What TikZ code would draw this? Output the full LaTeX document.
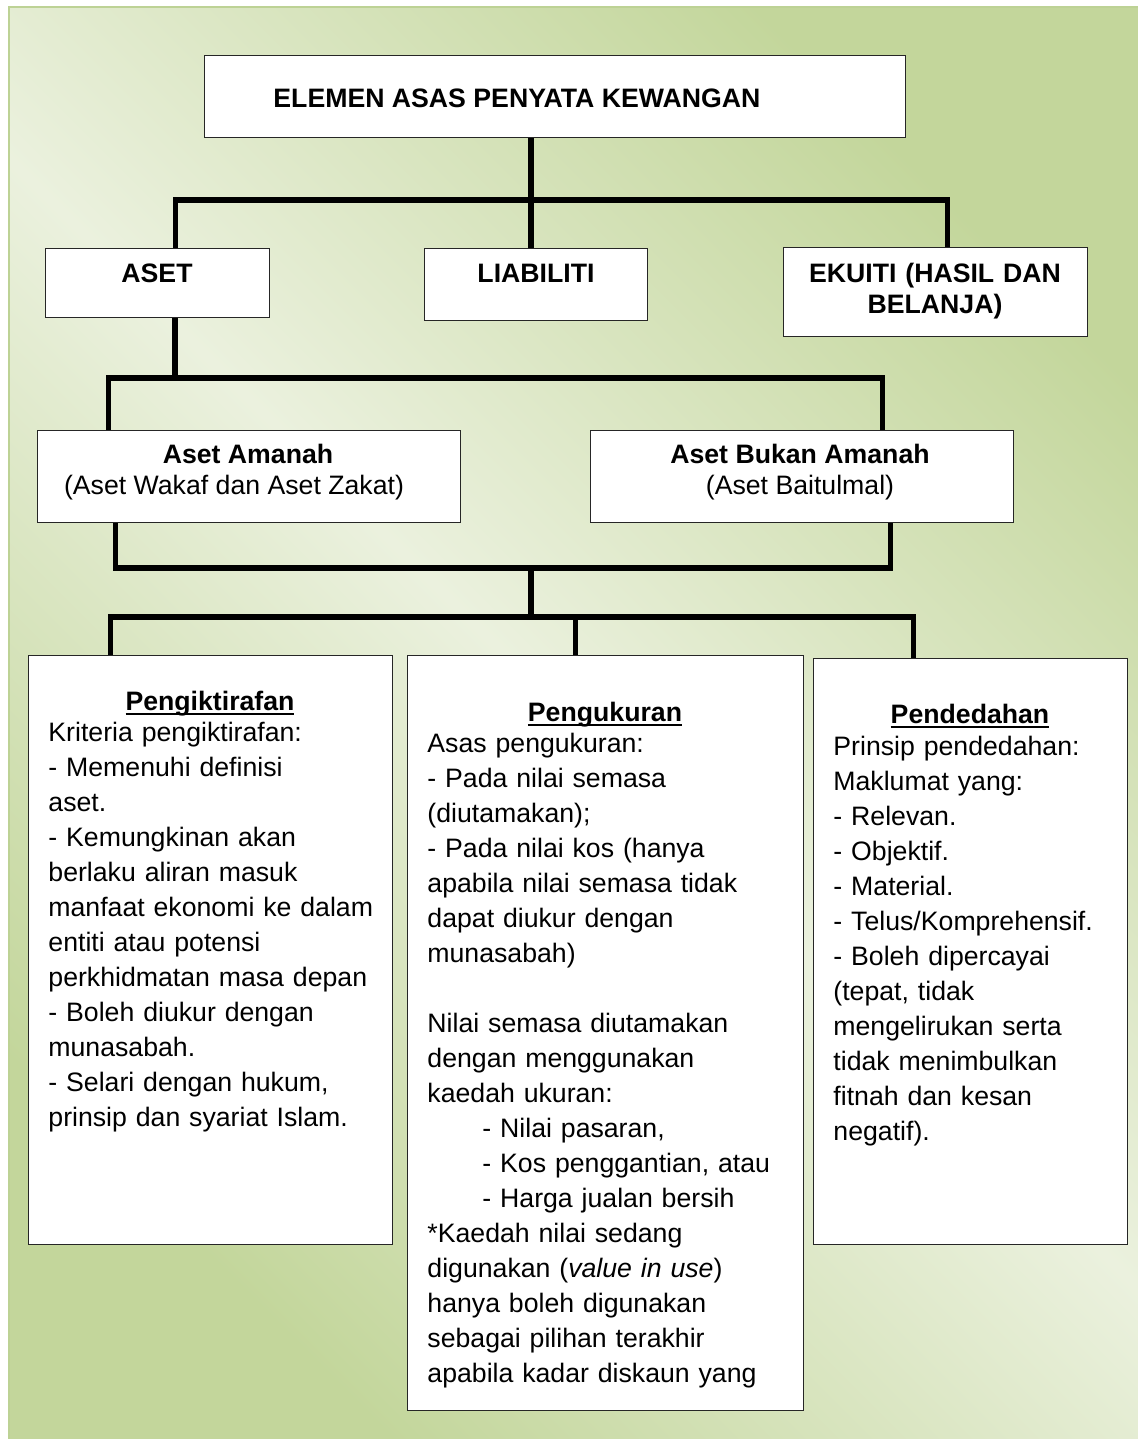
\documentclass[tikz,border=0pt]{standalone}
\usepackage{fontspec}
\setmainfont{Liberation Sans}
\usetikzlibrary{calc}
\definecolor{olivedark}{HTML}{C3D69B}
\definecolor{olivelight}{HTML}{EBF1DE}
\definecolor{oliveline}{HTML}{BDD295}
\newcommand{\isiteks}{\fontsize{12}{15.75}\selectfont}
\newsavebox{\headbox}
\newcommand{\headline}[1]{\sbox{\headbox}{\textbf{#1}}\usebox{\headbox}\llap{\rule[-2.4pt]{\wd\headbox}{0.9pt}}}

\begin{document}
\begin{tikzpicture}[x=0.45pt,y=-0.45pt,
    box/.style={draw=black!85,line width=0.6pt,fill=white,inner sep=0pt,anchor=north west},
    boxsize/.style 2 args={minimum width=#1*0.45pt,minimum height=#2*0.45pt},
    teks/.style={inner sep=0pt,font=\isiteks},
    senarai/.style={teks,anchor=base west,align=left},
    link/.style={line width=2.3pt,line join=miter}]
\useasboundingbox (0,0) rectangle (1138,1439);
% latar
\shade[left color=olivedark,right color=olivedark,middle color=olivelight,shading angle=-45] (9,7) rectangle (1138,1439);
\draw[oliveline,line width=0.9pt] (9,1439) -- (9,7) -- (1138,7);

% kotak
\node[box,boxsize={701}{82}] (judul) at (204,55) {};
\node[box,boxsize={224}{69}] (aset) at (45,248) {};
\node[box,boxsize={223}{72}] (liabiliti) at (424,248) {};
\node[box,boxsize={304}{89}] (ekuiti) at (783,247) {};
\node[box,boxsize={423}{92}] (amanah) at (37,430) {};
\node[box,boxsize={423}{92}] (bukanamanah) at (590,430) {};
\node[box,boxsize={364}{589}] (pengiktirafan) at (28,655) {};
\node[box,boxsize={396}{755}] (pengukuran) at (407,655) {};
\node[box,boxsize={314}{586}] (pendedahan) at (813,658) {};

% teks
\node[teks,anchor=base west] (judulteks) at (273,107) {\textbf{ELEMEN ASAS PENYATA KEWANGAN}};
\node[teks,anchor=base] (asetteks) at (157,282) {\textbf{ASET}};
\node[teks,anchor=base] (liabilitieks) at (536,282) {\textbf{LIABILITI}};
\node[teks,anchor=base,align=center,text width=130pt,font=\fontsize{12}{13.95}\selectfont\bfseries] (ekuititeks) at (935,282) {EKUITI (HASIL DAN\\BELANJA)};
\node[teks,anchor=base] (amanahteks) at (248,463) {\textbf{Aset Amanah}};
\node[teks,anchor=base] (amanahsub) at (234,494) {(Aset Wakaf dan Aset Zakat)};
\node[teks,anchor=base] (bukanteks) at (800,463) {\textbf{Aset Bukan Amanah}};
\node[teks,anchor=base] (bukansub) at (800,494) {(Aset Baitulmal)};

\node[teks,anchor=base] (tajuk1) at (210,710) {\headline{Pengiktirafan}};
\node[senarai,text width=153pt] (isi1) at (48,741) {Kriteria pengiktirafan:\\
- Memenuhi definisi\\
aset.\\
- Kemungkinan akan\\
berlaku aliran masuk\\
manfaat ekonomi ke dalam\\
entiti atau potensi\\
perkhidmatan masa depan\\
- Boleh diukur dengan\\
munasabah.\\
- Selari dengan hukum,\\
prinsip dan syariat Islam.};

\node[teks,anchor=base] (tajuk2) at (605,721) {\headline{Pengukuran}};
\node[senarai,text width=165pt] (isi2) at (427,752) {Asas pengukuran:\\
- Pada nilai semasa\\
(diutamakan);\\
- Pada nilai kos (hanya\\
apabila nilai semasa tidak\\
dapat diukur dengan\\
munasabah)\\[15.75pt]
Nilai semasa diutamakan\\
dengan menggunakan\\
kaedah ukuran:\\
\hspace*{24.75pt}- Nilai pasaran,\\
\hspace*{24.75pt}- Kos penggantian, atau\\
\hspace*{24.75pt}- Harga jualan bersih\\
{*}Kaedah nilai sedang\\
digunakan (\textit{value in use})\\
hanya boleh digunakan\\
sebagai pilihan terakhir\\
apabila kadar diskaun yang};

\node[teks,anchor=base] (tajuk3) at (970,723) {\headline{Pendedahan}};
\node[senarai,text width=129pt] (isi3) at (833,755) {Prinsip pendedahan:\\
Maklumat yang:\\
- Relevan.\\
- Objektif.\\
- Material.\\
- Telus/Komprehensif.\\
- Boleh dipercayai\\
(tepat, tidak\\
mengelirukan serta\\
tidak menimbulkan\\
fitnah dan kesan\\
negatif).};

% penyambung
\coordinate (bus1) at (531,200);
\coordinate (bus2) at (175,378);
\coordinate (bus3) at (531,568);
\coordinate (bus4) at (531,617);
\draw[link] (judul.south -| bus1) -- (bus1);
\draw[link] ($(aset.north)+(18,0)$) |- (bus1);
\draw[link] ($(ekuiti.north)+(12,0)$) |- (bus1);
\draw[link] (bus1) -- (bus1 |- liabiliti.north);
\draw[link] (aset.south -| bus2) -- (bus2);
\draw[link] ($(amanah.north)+(-140.5,0)$) |- (bus2);
\draw[link] ($(bukanamanah.north)+(80.5,0)$) |- (bus2);
\draw[link] ($(amanah.south)+(-133.5,0)$) |- (bus3) -| ($(bukanamanah.south)+(88.5,0)$);
\draw[link] (bus3) -- (bus4);
\draw[link] ($(pengiktirafan.north)+(-100,0)$) |- (bus4);
\draw[link] ($(pengukuran.north)+(-30,0)$) |- (bus4);
\draw[link] ($(pendedahan.north)+(-57,0)$) |- (bus4);
\end{tikzpicture}
\end{document}
